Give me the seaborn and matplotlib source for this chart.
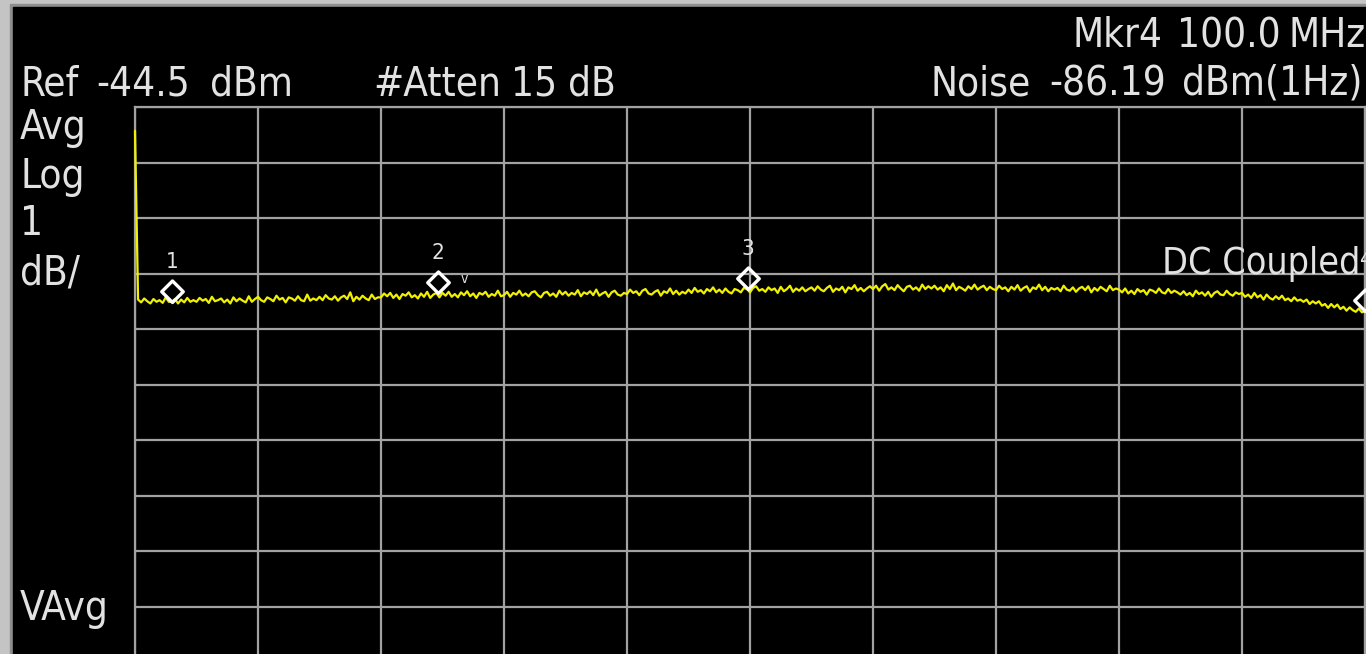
import numpy as np
import pandas as pd
import matplotlib
matplotlib.use('Agg')
import matplotlib.pyplot as plt
from matplotlib.path import Path
from matplotlib.patches import Rectangle
import seaborn as sns

W, H = 1366, 654

# analyzer settings
ref_level = -44.5
db_per_div = 1.0
n_div = 10
freq_start = 0.0
freq_stop = 100.0

# averaged trace in dBm, 0.25 MHz steps (first point is the feedthrough at DC)
trace_dbm = [
    -44.93, -47.97, -48.02, -47.95, -48.00, -48.04, -47.96, -48.01, -47.98, -48.03,
    -47.93, -48.01, -48.01, -47.96, -48.04, -47.97, -48.02, -47.94, -48.01, -47.98,
    -48.01, -47.94, -47.99, -47.96, -48.03, -47.92, -48.00, -47.98, -47.95, -48.02,
    -47.97, -48.04, -47.93, -48.00, -47.95, -47.99, -48.02, -47.91, -48.01, -47.96,
    -47.92, -47.98, -48.01, -47.93, -47.96, -48.00, -47.90, -47.97, -47.94, -48.02,
    -47.93, -47.95, -47.99, -47.91, -47.98, -48.00, -47.88, -47.99, -47.95, -47.98,
    -47.92, -47.98, -47.89, -47.95, -47.97, -47.91, -47.99, -47.93, -47.90, -47.96,
    -47.84, -48.00, -47.92, -47.97, -47.90, -47.95, -47.98, -47.88, -47.96, -47.93,
    -47.93, -47.86, -47.91, -47.85, -47.94, -47.88, -47.96, -47.87, -47.90, -47.84,
    -47.93, -47.89, -47.95, -47.86, -47.92, -47.83, -47.94, -47.88, -47.85, -47.93,
    -47.85, -47.90, -47.83, -47.92, -47.87, -47.93, -47.84, -47.89, -47.82, -47.91,
    -47.86, -47.94, -47.85, -47.88, -47.83, -47.92, -47.87, -47.90, -47.81, -47.91,
    -47.89, -47.83, -47.92, -47.85, -47.88, -47.81, -47.90, -47.86, -47.91, -47.84,
    -47.82, -47.89, -47.93, -47.85, -47.83, -47.90, -47.86, -47.92, -47.81, -47.88,
    -47.83, -47.90, -47.85, -47.88, -47.80, -47.91, -47.84, -47.87, -47.82, -47.89,
    -47.79, -47.90, -47.86, -47.83, -47.92, -47.84, -47.81, -47.88, -47.90, -47.85,
    -47.87, -47.79, -47.85, -47.82, -47.89, -47.81, -47.78, -47.86, -47.88, -47.83,
    -47.80, -47.90, -47.82, -47.85, -47.77, -47.87, -47.81, -47.88, -47.83, -47.86,
    -47.79, -47.85, -47.76, -47.83, -47.80, -47.86, -47.78, -47.82, -47.75, -47.84,
    -47.79, -47.85, -47.77, -47.83, -47.86, -47.78, -47.80, -47.84, -47.76, -47.78,
    -47.84, -47.76, -47.73, -47.81, -47.78, -47.83, -47.75, -47.80, -47.77, -47.85,
    -47.74, -47.82, -47.78, -47.72, -47.83, -47.77, -47.81, -47.75, -47.82, -47.78,
    -47.75, -47.81, -47.73, -47.79, -47.82, -47.76, -47.72, -47.83, -47.77, -47.80,
    -47.74, -47.84, -47.75, -47.78, -47.71, -47.81, -47.76, -47.82, -47.77, -47.73,
    -47.78, -47.72, -47.81, -47.73, -47.69, -47.79, -47.75, -47.80, -47.71, -47.77,
    -47.82, -47.74, -47.72, -47.79, -47.75, -47.81, -47.70, -47.78, -47.73, -47.77,
    -47.72, -47.79, -47.75, -47.82, -47.71, -47.78, -47.68, -47.80, -47.74, -47.77,
    -47.81, -47.73, -47.78, -47.70, -47.79, -47.75, -47.72, -47.80, -47.74, -47.78,
    -47.80, -47.72, -47.78, -47.75, -47.82, -47.74, -47.79, -47.71, -47.81, -47.76,
    -47.73, -47.83, -47.75, -47.78, -47.70, -47.80, -47.74, -47.82, -47.76, -47.79,
    -47.76, -47.82, -47.72, -47.79, -47.81, -47.75, -47.83, -47.77, -47.74, -47.80,
    -47.73, -47.84, -47.76, -47.81, -47.74, -47.78, -47.82, -47.72, -47.80, -47.77,
    -47.79, -47.84, -47.77, -47.86, -47.81, -47.87, -47.78, -47.83, -47.80, -47.88,
    -47.79, -47.81, -47.85, -47.77, -47.84, -47.86, -47.78, -47.85, -47.81, -47.84,
    -47.88, -47.82, -47.89, -47.85, -47.91, -47.81, -47.87, -47.84, -47.90, -47.83,
    -47.92, -47.85, -47.82, -47.88, -47.89, -47.81, -47.87, -47.90, -47.84, -47.87,
    -47.85, -47.92, -47.88, -47.94, -47.85, -47.93, -47.89, -47.97, -47.88, -47.94,
    -47.97, -47.91, -47.96, -47.90, -47.98, -47.95, -48.00, -47.93, -47.99, -47.97,
    -48.01, -47.97, -48.05, -48.00, -48.04, -48.00, -48.08, -48.05, -48.12, -48.05,
    -48.11, -48.06, -48.14, -48.10, -48.17, -48.11, -48.16, -48.19, -48.13, -48.20,
    -48.18,
]

marker_ids = ['1', '2', '3', '4']
marker_freq = [3.0, 24.6, 49.8, 100.0]
marker_dbm = [-48.01, -47.85, -47.78, -48.18]

freq = np.linspace(freq_start, freq_stop, len(trace_dbm))
df = pd.DataFrame({'freq': freq, 'level': trace_dbm})

grid_col = '#a2a2a2'
txt_col = '#e2e2e2'

sns.set_theme(style='dark', rc={
    'axes.facecolor': 'black',
    'figure.facecolor': '#c4c4c4',
    'axes.edgecolor': grid_col,
    'axes.linewidth': 1.6,
    'grid.color': grid_col,
    'grid.linewidth': 1.6,
})
plt.rcParams['font.family'] = ['DejaVu Sans']
plt.rcParams['font.stretch'] = 'condensed'

fig = plt.figure(figsize=(W / 100, H / 100), dpi=100)
# instrument bezel: light grey edge, darker inner line, black screen
fig.add_artist(Rectangle((10 / W, 0), 1, 1 - 4 / H, transform=fig.transFigure,
                         color='#8e8e8e', zorder=-2))
fig.add_artist(Rectangle((13 / W, 0), 1, 1 - 7 / H, transform=fig.transFigure,
                         color='black', zorder=-1))

ax = fig.add_axes([135 / W, 1 - 662 / H, 1230 / W, 555 / H])
ax.set_xlim(freq_start, freq_stop)
ax.set_ylim(ref_level - n_div * db_per_div, ref_level)
ax.set_xticks(np.linspace(freq_start, freq_stop, n_div + 1))
ax.set_yticks(ref_level - np.arange(n_div + 1) * db_per_div)
ax.tick_params(length=0, labelbottom=False, labelleft=False)
ax.grid(True, color=grid_col, linewidth=1.6)
for sp in ax.spines.values():
    sp.set_visible(True)
    sp.set_color(grid_col)
    sp.set_linewidth(1.6)

sns.lineplot(data=df, x='freq', y='level', ax=ax, color='#f0f000',
             linewidth=1.6, estimator=None, zorder=4, clip_on=False)
ax.set_xlabel('')
ax.set_ylabel('')

# marker diamonds sit on the trace by their bottom tip
diamond = Path([(0, 0), (0.5, 0.5), (0, 1), (-0.5, 0.5), (0, 0)],
               [Path.MOVETO, Path.LINETO, Path.LINETO, Path.LINETO, Path.CLOSEPOLY])
ax.plot(marker_freq, marker_dbm, linestyle='none', marker=diamond, markersize=31,
        markerfacecolor='none', markeredgecolor='white', markeredgewidth=2.4,
        zorder=5, clip_on=False)
for i, (m, f, d) in enumerate(zip(marker_ids, marker_freq, marker_dbm)):
    dy = 37 if i == 3 else 29
    ax.annotate(m, (f, d), xytext=(0, dy), textcoords='offset points',
                ha='center', va='center', color=txt_col, fontsize=16,
                annotation_clip=False)
ax.annotate('v', (marker_freq[1], marker_dbm[1]), xytext=(19, 10),
            textcoords='offset points', ha='center', va='center',
            color=txt_col, fontsize=10, annotation_clip=False)


def put(x, y, s, size=29):
    fig.text(x / W, 1 - y / H, s, ha='left', va='baseline', fontsize=size, color=txt_col)


put(1073, 47, 'Mkr4')
put(1177, 47, '100.0')
put(1289, 47, 'MHz')
put(20, 95, 'Ref')
put(96, 95, '-44.5')
put(210, 95, 'dBm')
put(373, 95, '#Atten')
put(511, 95, '15')
put(568, 95, 'dB')
put(930, 95, 'Noise')
put(1049, 95, '-86.19')
put(1182, 95, 'dBm(1Hz)')
put(20, 139, 'Avg')
put(20, 188, 'Log')
put(20, 235, '1')
put(20, 285, 'dB/')
put(20, 620, 'VAvg')
put(1162, 274, 'DC Coupled', size=27)

fig.savefig('out.png', dpi=100, facecolor=fig.get_facecolor())
